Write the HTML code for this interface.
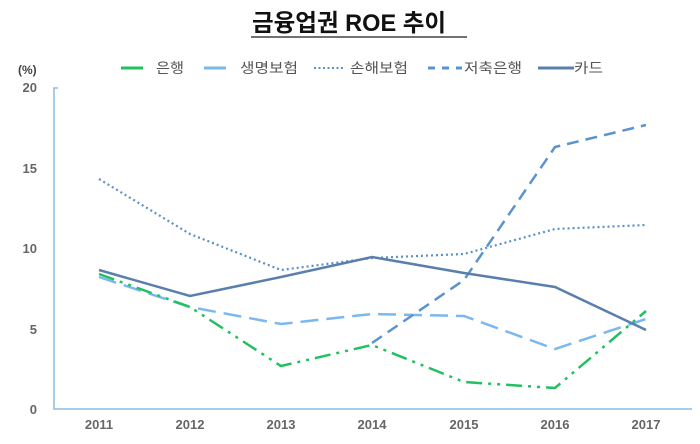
<!DOCTYPE html>
<html><head><meta charset="utf-8"><style>
body{margin:0;background:#fff;width:700px;height:444px;overflow:hidden}
svg{display:block}
text{font-family:"Liberation Sans","Noto Sans CJK KR",sans-serif}
</style></head><body>
<svg width="700" height="444" viewBox="0 0 700 444">
<text x="252" y="31" font-size="24" font-weight="bold" fill="#111" textLength="194" lengthAdjust="spacingAndGlyphs">금융업권 ROE 추이</text>
<line x1="251" y1="37" x2="467" y2="37" stroke="#444" stroke-width="1.5"/>
<text x="18" y="74" font-size="12" font-weight="bold" fill="#444">(%)</text>
<g font-size="14" fill="#555">
<line x1="121" y1="68" x2="143" y2="68" stroke="#22c060" stroke-width="3"/><text x="156" y="73" textLength="28" lengthAdjust="spacingAndGlyphs">은행</text>
<line x1="204" y1="68" x2="226" y2="68" stroke="#7ab8ee" stroke-width="3"/><text x="240" y="73" textLength="58" lengthAdjust="spacingAndGlyphs">생명보험</text>
<line x1="314" y1="68" x2="345" y2="68" stroke="#5b8fc9" stroke-width="2" stroke-dasharray="2 2.5"/><text x="350" y="73" textLength="58" lengthAdjust="spacingAndGlyphs">손해보험</text>
<line x1="428" y1="68" x2="462" y2="68" stroke="#5b93cf" stroke-width="3" stroke-dasharray="7 7"/><text x="464" y="73" textLength="58" lengthAdjust="spacingAndGlyphs">저축은행</text>
<line x1="538" y1="68" x2="574" y2="68" stroke="#5a7fac" stroke-width="3"/><text x="574" y="73" textLength="29" lengthAdjust="spacingAndGlyphs">카드</text>
</g>
<g stroke="#8cbbe6" stroke-width="1.5" fill="none">
<polyline points="58,88 54,88 54,409 692,409"/>
</g>
<g font-size="13" font-weight="bold" fill="#666" text-anchor="end">
<text x="37" y="92">20</text><text x="37" y="173">15</text><text x="37" y="253">10</text><text x="37" y="334">5</text><text x="37" y="414">0</text>
</g>
<g font-size="13" font-weight="bold" fill="#666" text-anchor="middle">
<text x="99" y="429">2011</text><text x="190" y="429">2012</text><text x="281" y="429">2013</text><text x="372" y="429">2014</text><text x="464" y="429">2015</text><text x="555" y="429">2016</text><text x="646" y="429">2017</text>
</g>
<g fill="none" stroke-width="2.5">
<polyline stroke="#5b8fc9" stroke-width="2.2" stroke-dasharray="2 3" points="99,179 190,234 281,270 372,258 464,254 555,229 646,225"/>
<polyline stroke="#7ab8ee" stroke-dasharray="18 8" points="99,277 190,307 281,324 372,314 464,316 555,349 646,319"/>
<polyline stroke="#22c060" stroke-dasharray="16 6 3 6 3 6" points="99,274 190,307 281,366 372,345 464,382 555,388 646,311"/>
<polyline stroke="#5b93cf" stroke-dasharray="12 7" points="372,343 464,280 555,147 646,125"/>
<polyline stroke="#5a7fac" points="99,270 190,296 281,277 372,257 464,273 555,287 646,330"/>
</g>
</svg>
</body></html>
